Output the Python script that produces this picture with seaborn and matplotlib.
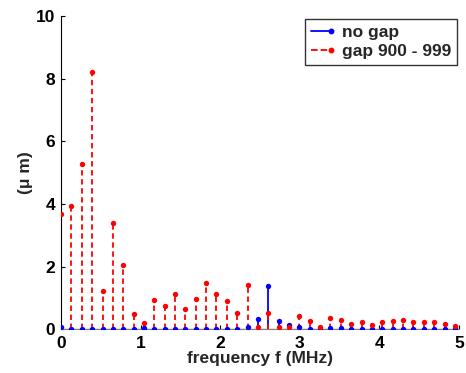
import numpy as np
import pandas as pd
import matplotlib
matplotlib.use("Agg")
import matplotlib.pyplot as plt
from matplotlib.lines import Line2D
from matplotlib.legend_handler import HandlerLine2D
import seaborn as sns

# Spectrum bins (MHz)
freq = [0.000, 0.130, 0.260, 0.391, 0.521, 0.651, 0.781, 0.911, 1.042, 1.172,
        1.302, 1.432, 1.562, 1.693, 1.823, 1.953, 2.083, 2.213, 2.344, 2.474,
        2.604, 2.734, 2.865, 2.995, 3.125, 3.255, 3.385, 3.516, 3.646, 3.776,
        3.906, 4.036, 4.167, 4.297, 4.427, 4.557, 4.688, 4.818, 4.948]

# Amplitudes (um)
no_gap = [0.06, 0.00, 0.01, 0.01, 0.01, 0.01, 0.01, 0.01, 0.03, 0.01,
          0.00, 0.01, 0.02, 0.02, 0.01, 0.01, 0.01, 0.02, 0.08, 0.32,
          1.39, 0.27, 0.15, 0.07, 0.02, 0.02, 0.03, 0.03, 0.02, 0.02,
          0.01, 0.02, 0.01, 0.01, 0.01, 0.02, 0.01, 0.01, 0.01]
gap_900_999 = [3.69, 3.95, 5.29, 8.21, 1.24, 3.38, 2.05, 0.50, 0.21, 0.95,
               0.73, 1.13, 0.65, 0.96, 1.47, 1.12, 0.89, 0.53, 1.42, 0.06,
               0.52, 0.08, 0.06, 0.42, 0.26, 0.07, 0.36, 0.29, 0.16, 0.23,
               0.13, 0.22, 0.26, 0.29, 0.24, 0.22, 0.23, 0.16, 0.10]

series_names = ["no gap", "gap 900 - 999"]
x_ticks = [0, 1, 2, 3, 4, 5]
y_ticks = [0, 2, 4, 6, 8, 10]

sns.set_style("white")
plt.rcParams["font.family"] = ["Liberation Sans", "DejaVu Sans"]
plt.rcParams["font.weight"] = "bold"

FS = 12.5

df = pd.DataFrame({"freq": freq, series_names[0]: no_gap, series_names[1]: gap_900_999})

fig = plt.figure(figsize=(4.66, 3.73), dpi=100)
ax = fig.add_axes([0.131, 0.117, 0.854, 0.840])

styles = {
    series_names[0]: dict(color="#0000ff", ls="-"),
    series_names[1]: dict(color="#ff0000", ls=(0, (3, 2))),
}

for name in series_names:
    st = styles[name]
    ax.vlines(df["freq"], 0, df[name], colors=st["color"], linestyles=[st["ls"]],
              linewidth=1.3, zorder=2)
    sns.scatterplot(data=df, x="freq", y=name, ax=ax, color=st["color"],
                    s=15, linewidth=0, zorder=3, legend=False)

ax.axhline(0, color="#808080", lw=1.0, zorder=1)

ax.set_xlim(0, 5)
ax.set_ylim(0, 10)
ax.set_xticks(x_ticks)
ax.set_yticks(y_ticks)
ax.tick_params(direction="in", length=3, width=0.8, labelsize=FS, pad=4,
               bottom=True, left=True, colors="black")
ax.tick_params(axis="x", pad=5)
for lab in ax.get_xticklabels() + ax.get_yticklabels():
    lab.set_fontweight("bold")
ax.set_xlabel("frequency f (MHz)", fontsize=FS, fontweight="bold", labelpad=0)
ax.set_ylabel("(\u03bc m)", fontsize=FS, fontweight="bold", labelpad=2)

for side in ["top", "right"]:
    ax.spines[side].set_visible(False)
ax.spines["left"].set_color("black")
ax.spines["left"].set_linewidth(0.8)
ax.spines["bottom"].set_color("#808080")
ax.spines["bottom"].set_linewidth(0.8)


class StemLegendHandler(HandlerLine2D):
    """Legend key: a line segment with a dot at its right end."""

    def create_artists(self, legend, orig_handle, xdescent, ydescent,
                       width, height, fontsize, trans):
        y = (height - ydescent) / 2
        x0, x1 = -xdescent, width - xdescent
        seg = Line2D([x0, x1], [y, y], color=orig_handle.get_color(),
                     linestyle=orig_handle.get_linestyle(),
                     linewidth=orig_handle.get_linewidth())
        dot = Line2D([x1], [y], color=orig_handle.get_color(), marker="o",
                     markersize=3.2, linestyle="none")
        seg.set_transform(trans)
        dot.set_transform(trans)
        return [seg, dot]


handles = [Line2D([], [], color=styles[n]["color"], linestyle=styles[n]["ls"], linewidth=1.3)
           for n in series_names]
leg = ax.legend(handles, series_names, loc="upper right", bbox_to_anchor=(0.995, 0.99),
                borderaxespad=0, handler_map={Line2D: StemLegendHandler()},
                handlelength=1.15, handletextpad=0.6, borderpad=0.35, labelspacing=0.2,
                fancybox=False, frameon=True, prop={"size": FS, "weight": "bold"})
leg.get_frame().set_edgecolor("black")
leg.get_frame().set_linewidth(1.0)

fig.savefig("out.png", dpi=100, facecolor="white")
